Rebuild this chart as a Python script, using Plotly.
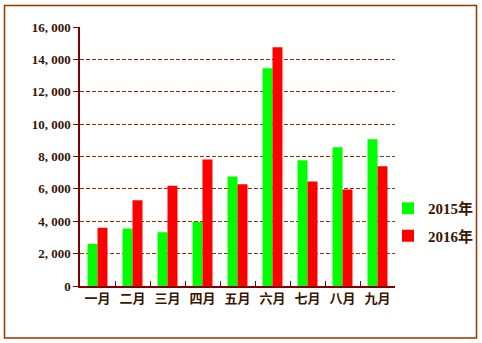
import plotly.graph_objects as go

months = ["一月", "二月", "三月", "四月", "五月", "六月", "七月", "八月", "九月"]
s2015 = [2600, 3550, 3320, 3960, 6760, 13450, 7770, 8570, 9060]
s2016 = [3600, 5300, 6200, 7810, 6280, 14750, 6450, 5960, 7400]
tick_vals = [0, 2000, 4000, 6000, 8000, 10000, 12000, 14000, 16000]
tick_text = ["0", "2, 000", "4, 000", "6, 000", "8, 000", "10, 000", "12, 000", "14, 000", "16, 000"]

FONT = "Liberation Serif, Noto Sans CJK SC, serif"
TXT = "#3a1500"
BROWN = "#993300"
AXIS = "#800000"

fig = go.Figure()
fig.add_trace(go.Bar(x=months, y=s2015, name="2015年", legendgroup="a",
                     marker=dict(color="#00FF00", line=dict(width=0))))
fig.add_trace(go.Bar(x=months, y=s2016, name="2016年", legendgroup="b",
                     marker=dict(color="#FF0000", line=dict(width=0))))

W, H = 482, 343
L, R, T, B = 80, 87, 27, 57
pw, ph = W - L - R, H - T - B

def px(x):
    return (x - L) / pw

def py(y):
    return (H - B - y) / ph

fig.update_layout(
    width=W, height=H,
    margin=dict(l=L, r=R, t=T, b=B, autoexpand=False),
    paper_bgcolor="white", plot_bgcolor="white",
    barmode="group", bargap=0.43, bargroupgap=0,
    font=dict(family=FONT, color=TXT, size=13),
    showlegend=True,
    legend=dict(x=px(388), y=py(222), xanchor="left", yanchor="middle",
                font=dict(size=15, family=FONT, color=TXT, weight="bold"),
                bgcolor="rgba(0,0,0,0)", itemwidth=30,
                traceorder="grouped", tracegroupgap=5),
    xaxis=dict(showline=True, linecolor=AXIS, linewidth=1.5, ticks="inside",
               ticklen=5, tickcolor=AXIS, tickson="boundaries", tickangle=0,
               tickfont=dict(size=13, family=FONT, color=TXT, weight="bold"),
               showgrid=False, fixedrange=True),
    yaxis=dict(range=[0, 16000], tickvals=tick_vals, ticktext=tick_text,
               showline=True, linecolor=AXIS, linewidth=1.5, ticks="outside",
               ticklen=5, tickcolor=AXIS,
               showgrid=True, gridcolor=BROWN, griddash="4px,2px", gridwidth=1,
               zeroline=False,
               tickfont=dict(size=13, family=FONT, color=TXT, weight="bold"), fixedrange=True),
    shapes=[dict(type="rect", xref="paper", yref="paper",
                 x0=px(4.5), x1=px(476.5), y0=py(338), y1=py(5.5),
                 line=dict(color=BROWN, width=1.5), fillcolor="rgba(0,0,0,0)",
                 layer="below")],
)

fig.write_html("out.html")
